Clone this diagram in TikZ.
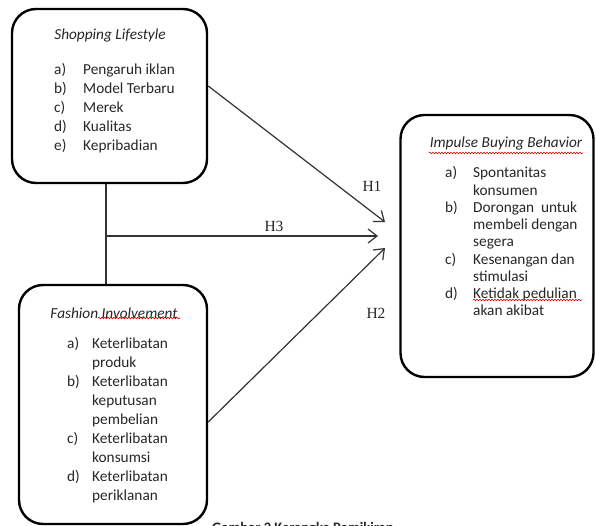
\documentclass[tikz,border=0pt]{standalone}
\usepackage{fontspec}
\setmainfont{Carlito}
\newfontfamily\hfont{Liberation Serif}
\usetikzlibrary{arrows.meta,decorations.pathmorphing}
\begin{document}
\begin{tikzpicture}[x=1pt,y=-1pt,
  box/.style={draw=black, line width=2.4pt, rounded corners=24pt, inner sep=0pt},
  ttl/.style={font=\fontsize{15.3}{18}\selectfont\itshape, inner sep=0pt, text=black!85},
  lst/.style={inner sep=0pt, anchor=base west, text=black!85},
  link/.style={draw=black!80, line width=1.2pt},
  arr/.style={link, -{Straight Barb[length=9pt,width=14pt,line width=1.2pt]}},
  hyp/.style={font=\hfont\fontsize{15.5}{18}\selectfont, inner sep=0pt, text=black!85},
  squig/.style={draw=red!85!black, line width=0.6pt, decorate, decoration={snake, segment length=3pt, amplitude=0.8pt}}
]
\useasboundingbox (0,0) rectangle (596,526);

% boxes
\node[box, minimum width=195pt, minimum height=174pt] (sl) at (109.5,96) {};
\node[box, minimum width=188pt, minimum height=239pt] (fi) at (113,404.5) {};
\node[box, minimum width=193pt, minimum height=262pt] (ib) at (497,246) {};

% titles
\node[ttl] (slT) at (110,36) {Shopping Lifestyle};
\node[ttl] (fiT) at (114,313) {Fashion Involvement};
\node[ttl] (ibT) at (506,144) {Impulse Buying Behavior};

% lists
\node[lst, font=\fontsize{15.3}{19}\selectfont] (slL) at (54,75) {\begin{tabular}[t]{@{}l@{}l@{}}
\makebox[29pt][l]{a)} & Pengaruh iklan\\
\makebox[29pt][l]{b)} & Model Terbaru\\
\makebox[29pt][l]{c)} & Merek\\
\makebox[29pt][l]{d)} & Kualitas\\
\makebox[29pt][l]{e)} & Kepribadian
\end{tabular}};

\node[lst, font=\fontsize{15.3}{19.1}\selectfont] (fiL) at (67,348) {\begin{tabular}[t]{@{}l@{}l@{}}
\makebox[25pt][l]{a)} & Keterlibatan\\
 & produk\\
\makebox[25pt][l]{b)} & Keterlibatan\\
 & keputusan\\
 & pembelian\\
\makebox[25pt][l]{c)} & Keterlibatan\\
 & konsumsi\\
\makebox[25pt][l]{d)} & Keterlibatan\\
 & periklanan
\end{tabular}};

\node[lst, font=\fontsize{15.3}{17.25}\selectfont] (ibL) at (445,178) {\begin{tabular}[t]{@{}l@{}l@{}}
\makebox[28pt][l]{a)} & Spontanitas\\
 & konsumen\\
\makebox[28pt][l]{b)} & Dorongan\ \ untuk\\
 & membeli dengan\\
 & segera\\
\makebox[28pt][l]{c)} & Kesenangan dan\\
 & stimulasi\\
\makebox[28pt][l]{d)} & Ketidak pedulian\\
 & akan akibat
\end{tabular}};

% spell-check squiggles
\draw[squig] (429,153) -- (583,153);
\draw[squig] (98,318) -- (180,318);
\draw[squig] (473,300) -- (582,300);

% connectors
\coordinate (j) at (106,236);
\coordinate (t1) at (385,222);
\coordinate (t3) at (378,236);
\coordinate (t2) at (385,248);
\coordinate (s1) at (0,86);
\coordinate (s2) at (0,422);
\draw[link] (sl.south -| j) -- (fi.north -| j);
\draw[arr] (j) -- (t3);
\draw[arr] (sl.east |- s1) -- (t1);
\draw[arr] (fi.east |- s2) -- (t2);

% hypothesis labels
\node[hyp] (h1) at (372,186) {H1};
\node[hyp] (h3) at (274,226) {H3};
\node[hyp] (h2) at (376,313) {H2};

% caption (cut off at the bottom edge, as in the reference)
\begin{scope}
\clip (0,0) rectangle (596,526);
\node[anchor=north west, inner sep=0pt, font=\fontsize{14.5}{17}\selectfont\bfseries, text=black!85] (cap) at (212,522.5) {Gambar 2 Kerangka Pemikiran};
\end{scope}
\end{tikzpicture}
\end{document}
